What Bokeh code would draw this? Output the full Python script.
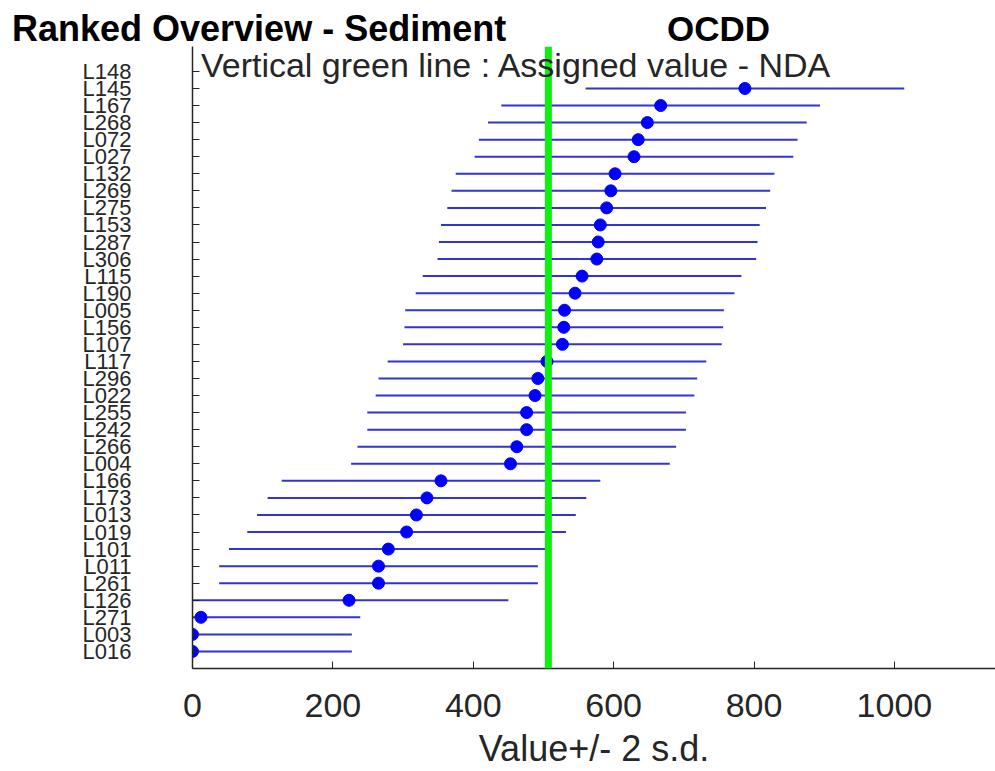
from bokeh.plotting import figure
from bokeh.layouts import column
from bokeh.models import Range1d, FixedTicker, Span, Label, ColumnDataSource, Div
from bokeh.embed import file_html
from bokeh.resources import INLINE

# ---- data (top of chart -> bottom) ----
labs = ["L148", "L145", "L167", "L268", "L072", "L027", "L132", "L269", "L275",
        "L153", "L287", "L306", "L115", "L190", "L005", "L156", "L107", "L117",
        "L296", "L022", "L255", "L242", "L266", "L004", "L166", "L173", "L013",
        "L019", "L101", "L011", "L261", "L126", "L271", "L003", "L016"]
vals = [1500, 787, 667, 648, 635, 629, 602, 596, 590,
        581, 578, 576, 555, 545, 530, 529, 527, 505,
        492, 488, 476, 476, 462, 453, 354, 334, 319,
        305, 279, 265, 265, 223, 12, 0, 0]
two_sd = 227
assigned = 507
x_ticks = [0, 200, 400, 600, 800, 1000]
title_text = "Ranked Overview - Sediment"
compound = "OCDD"
note_text = "Vertical green line : Assigned value -  NDA"
x_title = "Value+/- 2 s.d."

n = len(labs)
ypos = [n - i for i in range(n)]
low = [v - two_sd for v in vals]
high = [v + two_sd for v in vals]
src = ColumnDataSource(dict(y=ypos, v=vals, lo=low, hi=high, lab=labs))

FONT = "Liberation Sans"
INK = "#262626"

# ---- title strip (HTML text) ----
head = Div(
    text=(
        '<div style="position:relative;width:995px;height:46px;'
        'font-family:\'Liberation Sans\',Arial,sans-serif;color:#000;">'
        '<span style="position:absolute;left:12px;top:10px;font-size:36px;'
        'line-height:38px;font-weight:bold;white-space:nowrap;">%s</span>'
        '<span style="position:absolute;left:667px;top:10px;font-size:35px;'
        'line-height:38px;font-weight:bold;white-space:nowrap;">%s</span>'
        '</div>' % (title_text, compound)
    ),
    width=995, height=46, margin=(0, 0, 0, 0),
)

# ---- main plot ----
p = figure(width=995, height=725, output_backend="svg", toolbar_location=None,
           x_range=Range1d(0, 1144), y_range=Range1d(0, 36.46),
           min_border_left=192, min_border_right=0, min_border_top=0,
           min_border_bottom=103, margin=(0, 0, 0, 0))
p.outline_line_color = None
p.xgrid.visible = False
p.ygrid.visible = False
p.background_fill_color = "white"
p.border_fill_color = "white"

p.segment(x0="lo", y0="y", x1="hi", y1="y", source=src,
          line_color="#3232d6", line_width=2)
p.scatter(x="v", y="y", source=src, size=12, fill_color="#0000ff",
          line_color="#0000ff", marker="circle")

p.add_layout(Span(location=assigned, dimension="height",
                  line_color="#11ee11", line_width=7))

# x axis
xa = p.xaxis[0]
xa.ticker = FixedTicker(ticks=x_ticks)
xa.minor_tick_line_color = None
xa.major_tick_in = 7
xa.major_tick_out = 0
xa.axis_line_color = INK
xa.axis_line_width = 1.5
xa.major_tick_line_color = INK
xa.major_label_text_font = FONT
xa.major_label_text_font_size = "34px"
xa.major_label_text_color = INK
xa.major_label_standoff = 25
xa.axis_label = x_title
xa.axis_label_text_font = FONT
xa.axis_label_text_font_size = "36px"
xa.axis_label_text_font_style = "normal"
xa.axis_label_text_color = INK
xa.axis_label_standoff = 8

# y axis
ya = p.yaxis[0]
ya.ticker = FixedTicker(ticks=ypos)
ya.major_label_overrides = {y: l for y, l in zip(ypos, labs)}
ya.minor_tick_line_color = None
ya.major_tick_in = 7
ya.major_tick_out = 0
ya.axis_line_color = INK
ya.axis_line_width = 1.5
ya.major_tick_line_color = INK
ya.major_label_text_font = FONT
ya.major_label_text_font_size = "22px"
ya.major_label_text_color = INK
ya.major_label_standoff = 61

p.add_layout(Label(x=12, y=35.35, text=note_text,
                   text_font=FONT, text_font_size="34px",
                   text_color=INK, text_align="left", text_baseline="middle"))

layout = column(head, p, spacing=0)
open("out.html", "w").write(file_html(layout, INLINE))
